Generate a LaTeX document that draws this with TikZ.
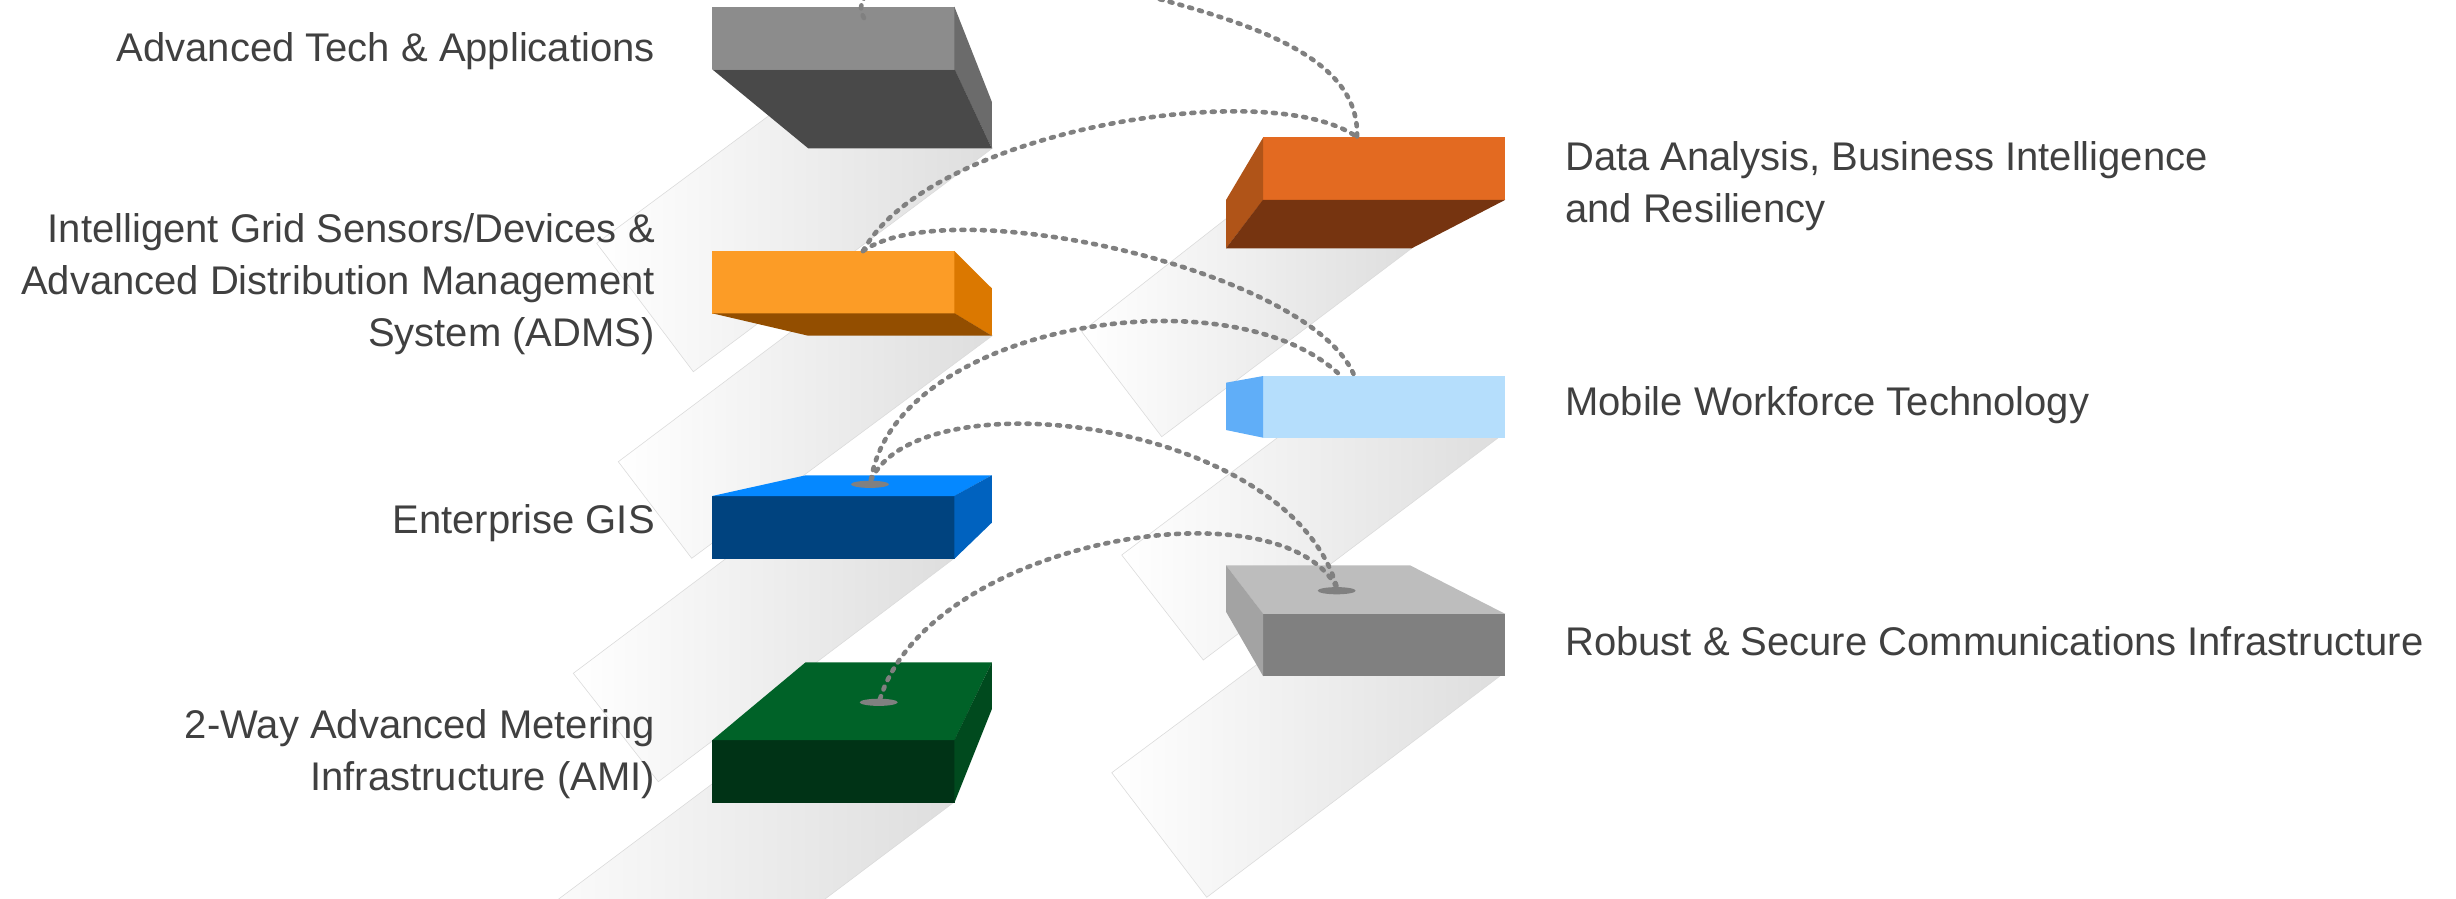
\documentclass[tikz,border=0pt]{standalone}
\usepackage{fontspec}
\setmainfont{Liberation Sans}
\definecolor{txt}{HTML}{404040}
\definecolor{conc}{HTML}{808080}
\definecolor{gAf}{HTML}{8C8C8C}\definecolor{gAs}{HTML}{6B6B6B}\definecolor{gAb}{HTML}{494949}
\definecolor{oAf}{HTML}{FC9C26}\definecolor{oAs}{HTML}{DB7800}\definecolor{oAb}{HTML}{934E00}
\definecolor{bAt}{HTML}{0588FF}\definecolor{bAf}{HTML}{00437F}\definecolor{bAs}{HTML}{0062BF}
\definecolor{vAt}{HTML}{006228}\definecolor{vAf}{HTML}{003316}\definecolor{vAs}{HTML}{004A1E}
\definecolor{oBf}{HTML}{E36A21}\definecolor{oBl}{HTML}{B05418}\definecolor{oBb}{HTML}{763410}
\definecolor{lBf}{HTML}{B5DEFC}\definecolor{lBl}{HTML}{60AEF8}
\definecolor{gBt}{HTML}{BDBDBD}\definecolor{gBl}{HTML}{A3A3A3}\definecolor{gBf}{HTML}{808080}
\begin{document}
\begin{tikzpicture}[x=1pt,y=-1pt,
  stripe/.style={left color=white, right color=black!13, draw=black!14, line width=0.6pt},
  face/.style={minimum width=242.6pt, minimum height=62.6pt, inner sep=0pt, outer sep=0pt},
  conn/.style={draw=conc, line width=4.6pt, dash pattern=on 3pt off 7.2pt, line cap=round},
  pin/.style={fill=conc},
  lbl/.style={text=txt, font=\fontsize{40}{52}\selectfont, inner sep=0pt}]
\useasboundingbox (0,0) rectangle (2456,898);
\clip (0,0) rectangle (2456,898);

% shadow stripes
\path[stripe] (790,100) -- (596.7,243.3) -- (693.3,371.7) -- (992.3,148.3) -- (980,100) -- cycle;
\path[stripe] (800,325) -- (618.3,461.7) -- (691.7,558.3) -- (992.3,335.7) -- (985,325) -- cycle;
\path[stripe] (740,548) -- (573.3,673.3) -- (658.3,781.7) -- (953.3,559) -- (950,548) -- cycle;
\path[stripe] (730.7,770) -- (489.3,951) -- (755.7,951) -- (953.3,802.7) -- (950,770) -- cycle;
\path[stripe] (1250,200) -- (1081.7,331.7) -- (1161.7,436.7) -- (1411.7,248.3) -- (1400,200) -- cycle;
\path[stripe] (1285,432) -- (1121.7,555) -- (1203.3,660) -- (1498.3,437.7) -- (1490,432) -- cycle;
\path[stripe] (1275,651) -- (1111.7,772.7) -- (1206.7,897.3) -- (1500,676) -- (1495,651) -- cycle;

% box: Advanced Tech & Applications
\node[face, fill=gAf] (tech) at (833.4,38) {};
\fill[gAs] (954.4,6.7) -- (991.8,101.7) -- (991.8,148.3) -- (954.4,69.5) -- cycle;
\fill[gAb] (712.2,69.3) -- (954.6,69.3) -- (991.8,148.3) -- (808.2,148.3) -- cycle;

% box: ADMS
\node[face, fill=oAf] (adms) at (833.4,282.2) {};
\fill[oAs] (954.4,251) -- (991.8,288.3) -- (991.8,335.7) -- (954.4,313.5) -- cycle;
\fill[oAb] (712.2,313.3) -- (954.6,313.3) -- (991.8,335.7) -- (808.2,335.7) -- cycle;

% box: Enterprise GIS
\node[face, fill=bAf] (gis) at (833.4,527.4) {};
\fill[bAt] (712.2,496) -- (805.6,475.3) -- (991.8,475.3) -- (954.6,496) -- cycle;
\fill[bAs] (954.4,495.9) -- (991.8,475.3) -- (991.8,522.7) -- (954.4,558.8) -- cycle;

% box: AMI
\node[face, fill=vAf] (ami) at (833.4,771.4) {};
\fill[vAt] (712.2,740.2) -- (805.6,662.3) -- (991.8,662.3) -- (954.6,740.2) -- cycle;
\fill[vAs] (954.4,740.1) -- (991.8,662.3) -- (991.8,709.3) -- (954.4,802.7) -- cycle;

% box: Data Analysis
\node[face, fill=oBf] (data) at (1384,168.7) {};
\fill[oBl] (1226,200) -- (1263.2,137.3) -- (1263.2,200) -- (1226,248.3) -- cycle;
\fill[oBb] (1263,199.8) -- (1505.3,199.8) -- (1411.7,248.3) -- (1226,248.3) -- cycle;

% box: Mobile Workforce
\node[face, fill=lBf] (mob) at (1384,406.9) {};
\fill[lBl] (1226,382.7) -- (1263.2,376) -- (1263.2,437.7) -- (1226,430) -- cycle;

% box: Robust & Secure
\node[face, fill=gBf] (rob) at (1384,645) {};
\fill[gBt] (1226,565.3) -- (1410,565.3) -- (1505.3,613.9) -- (1263,613.9) -- cycle;
\fill[gBl] (1226,565.3) -- (1263.2,613.9) -- (1263.2,676.3) -- (1226,611.7) -- cycle;

% pins
\fill[pin] (870,484.3) ellipse [x radius=19, y radius=3.6];
\fill[pin] (878.7,702.3) ellipse [x radius=19, y radius=3.6];
\fill[pin] (1336.7,590.7) ellipse [x radius=19, y radius=3.6];

\coordinate (techPin) at (864,18);
\coordinate (techOut) at (868,-8);
\coordinate (topOut) at (1140,-6);
\coordinate (admsPin) at (863,251);
\coordinate (dataPin) at (1357,137);
\coordinate (mobPinA) at (1354,375);
\coordinate (mobPinB) at (1340,375);
\coordinate (gisPin) at (871,480);
\coordinate (robPin) at (1337,588);
\coordinate (amiPin) at (880,699);

% connectors
\draw[conn] (techPin) .. controls (858,8) and (862,0) .. (techOut);
\draw[conn] (topOut) .. controls (1260,25) and (1360,60) .. (dataPin);
\draw[conn] (admsPin) .. controls (930,130) and (1270,75) .. (dataPin);
\draw[conn] (admsPin) .. controls (950,190) and (1310,270) .. (mobPinA);
\draw[conn] (gisPin) .. controls (895,325) and (1230,270) .. (mobPinB);
\draw[conn] (gisPin) .. controls (920,375) and (1290,420) .. (robPin);
\draw[conn] (amiPin) .. controls (930,540) and (1280,480) .. (robPin);

% labels (base anchor of a multi-line node = last line's baseline)
\node[lbl, anchor=base east] (lTech) at (655,61.7) {Advanced Tech \& Applications};
\node[lbl, anchor=base east, align=right] (lAdms) at (655,346.7) {Intelligent Grid Sensors/Devices \&\\Advanced Distribution Management\\System (ADMS)};
\node[lbl, anchor=base east] (lGis) at (655,533.3) {Enterprise GIS};
\node[lbl, anchor=base east, align=right] (lAmi) at (655,790) {2-Way Advanced Metering\\Infrastructure (AMI)};
\node[lbl, anchor=base west, align=left] (lData) at (1565,222) {Data Analysis, Business Intelligence\\and Resiliency};
\node[lbl, anchor=base west] (lMob) at (1565,415) {Mobile Workforce Technology};
\node[lbl, anchor=base west] (lRob) at (1565,655) {Robust \& Secure Communications Infrastructure};
\end{tikzpicture}
\end{document}
